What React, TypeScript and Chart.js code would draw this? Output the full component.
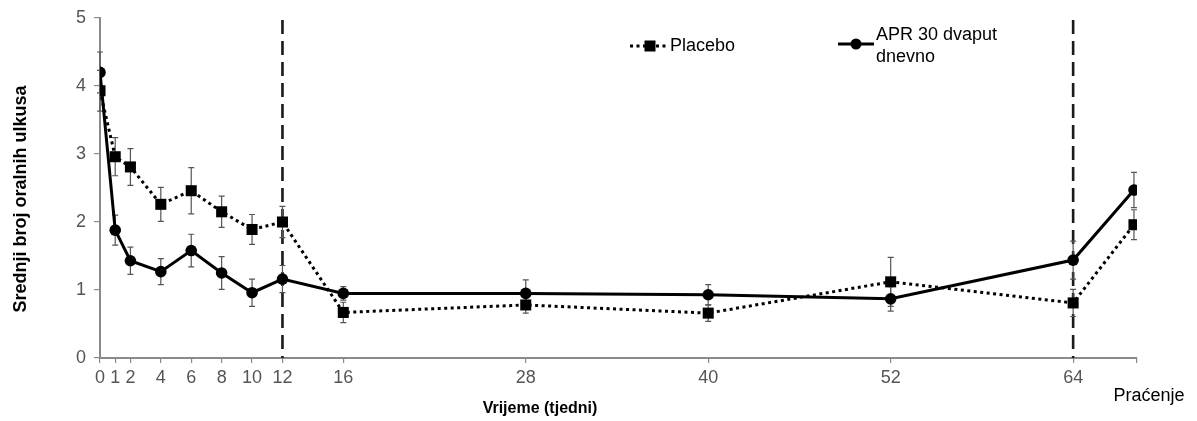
import React, { useEffect, useRef } from "react";
import { Chart, registerables } from "chart.js";

Chart.register(...registerables);

// ---- data ----
const weeks = [0, 1, 2, 4, 6, 8, 10, 12, 16, 28, 40, 52, 64, 68];
const tickWeeks = [0, 1, 2, 4, 6, 8, 10, 12, 16, 28, 40, 52, 64, 68.2];
const tickLabels = ["0", "1", "2", "4", "6", "8", "10", "12", "16", "28", "40", "52", "64", ""];
const followUpLabel = "Praćenje";
const yTicks = [0, 1, 2, 3, 4, 5];
const phaseLines = [12, 64];

const placeboMean = [3.93, 2.96, 2.81, 2.26, 2.46, 2.15, 1.89, 2.0, 0.67, 0.78, 0.66, 1.12, 0.81, 1.96];
const placeboSE = [0.3, 0.28, 0.27, 0.25, 0.34, 0.23, 0.22, 0.23, 0.15, 0.12, 0.12, 0.36, 0.2, 0.22];
const aprMean = [4.2, 1.88, 1.43, 1.27, 1.58, 1.25, 0.96, 1.16, 0.95, 0.95, 0.93, 0.87, 1.44, 2.47];
const aprSE = [0.3, 0.22, 0.2, 0.19, 0.24, 0.24, 0.2, 0.2, 0.1, 0.2, 0.15, 0.18, 0.28, 0.26];

const placeboName = "Placebo";
const aprName = "APR 30 dvaput dnevno";
const aprLegendLines = ["APR 30 dvaput", "dnevno"];
const yTitle = "Srednji broj oralnih ulkusa";
const xTitle = "Vrijeme (tjedni)";

const FONT = "'Liberation Sans', Arial, sans-serif";

const overlayPlugin = {
  id: "overlay",
  beforeDatasetsDraw(chart: any) {
    const { ctx, chartArea, scales } = chart;
    const x = scales.x;
    const y = scales.y;
    // vertical phase lines
    ctx.save();
    ctx.strokeStyle = "#1a1a1a";
    ctx.lineWidth = 2.6;
    ctx.setLineDash([14, 7]);
    phaseLines.forEach((w) => {
      const px = x.getPixelForValue(w);
      ctx.beginPath();
      ctx.moveTo(px, chartArea.top + 2);
      ctx.lineTo(px, chartArea.bottom);
      ctx.stroke();
    });
    ctx.restore();

    // error bars
    ctx.save();
    ctx.strokeStyle = "#555";
    ctx.lineWidth = 1.2;
    const drawBars = (means: number[], errs: number[]) => {
      means.forEach((m, i) => {
        const px = x.getPixelForValue(weeks[i]);
        const top = y.getPixelForValue(m + errs[i]);
        const bot = y.getPixelForValue(m - errs[i]);
        ctx.beginPath();
        ctx.moveTo(px, top);
        ctx.lineTo(px, bot);
        ctx.moveTo(px - 3, top);
        ctx.lineTo(px + 3, top);
        ctx.moveTo(px - 3, bot);
        ctx.lineTo(px + 3, bot);
        ctx.stroke();
      });
    };
    drawBars(placeboMean, placeboSE);
    drawBars(aprMean, aprSE);
    ctx.restore();
  },
  afterDraw(chart: any) {
    const { ctx, scales } = chart;
    const x = scales.x;
    ctx.save();
    // legend: placebo
    ctx.strokeStyle = "#000";
    ctx.fillStyle = "#000";
    ctx.lineWidth = 3;
    ctx.setLineDash([3, 3.5]);
    ctx.beginPath();
    ctx.moveTo(630, 46);
    ctx.lineTo(668, 46);
    ctx.stroke();
    ctx.setLineDash([]);
    ctx.fillRect(644.5, 40.5, 11, 11);
    ctx.font = `18px ${FONT}`;
    ctx.textAlign = "left";
    ctx.textBaseline = "middle";
    ctx.fillText(placeboName, 670, 46);
    // legend: APR
    ctx.lineWidth = 3;
    ctx.beginPath();
    ctx.moveTo(838, 44);
    ctx.lineTo(874, 44);
    ctx.stroke();
    ctx.beginPath();
    ctx.arc(856, 44, 5.5, 0, Math.PI * 2);
    ctx.fill();
    ctx.fillText(aprLegendLines[0], 876, 35);
    ctx.fillText(aprLegendLines[1], 876, 57);

    // follow-up label
    ctx.textAlign = "center";
    ctx.fillText(followUpLabel, x.getPixelForValue(68) + 15, 396);

    // x title
    ctx.font = `bold 16px ${FONT}`;
    ctx.fillText(xTitle, 540, 409);

    // y title
    ctx.translate(21, 199);
    ctx.rotate(-Math.PI / 2);
    ctx.font = `bold 18px ${FONT}`;
    ctx.fillText(yTitle, 0, 0);
    ctx.restore();
  },
};

export default function App() {
  const canvasRef = useRef<HTMLCanvasElement | null>(null);

  useEffect(() => {
    document.body.style.margin = "0";
    const canvas = canvasRef.current;
    if (!canvas) return;
    Chart.defaults.font.family = FONT;
    const chart = new Chart(canvas, {
      type: "line",
      data: {
        datasets: [
          {
            label: aprName,
            data: weeks.map((w, i) => ({ x: w, y: aprMean[i] })),
            borderColor: "#000",
            backgroundColor: "#000",
            borderWidth: 3,
            pointStyle: "circle",
            pointRadius: 5.8,
            pointBorderWidth: 0,
            tension: 0,
          },
          {
            label: placeboName,
            data: weeks.map((w, i) => ({ x: w, y: placeboMean[i] })),
            borderColor: "#000",
            backgroundColor: "#000",
            borderWidth: 3,
            borderDash: [3, 3.5],
            pointStyle: "rect",
            pointRadius: 7.8,
            pointBorderWidth: 0,
            tension: 0,
          },
        ],
      },
      options: {
        responsive: false,
        animation: false,
        events: [],
        layout: { padding: { top: 18, right: 60, bottom: 0, left: 0 } },
        plugins: {
          legend: { display: false },
          tooltip: { enabled: false },
        },
        scales: {
          x: {
            type: "linear",
            min: 0,
            max: 68.2,
            afterBuildTicks: (s: any) => {
              s.ticks = tickWeeks.map((v) => ({ value: v }));
            },
            ticks: {
              autoSkip: false,
              maxRotation: 0,
              minRotation: 0,
              padding: 4,
              color: "#555",
              font: { size: 18, family: FONT },
              callback: (_v: any, i: number) => tickLabels[i],
            },
            grid: { drawOnChartArea: false, drawTicks: true, tickLength: 5, color: "#8a8a8a", lineWidth: 1.2 },
            border: { color: "#8a8a8a", width: 2 },
            afterFit: (s: any) => {
              s.height = 63;
              s.paddingLeft = 0;
              s.paddingRight = 0;
            },
          },
          y: {
            type: "linear",
            min: 0,
            max: 5,
            afterBuildTicks: (s: any) => {
              s.ticks = yTicks.map((v) => ({ value: v }));
            },
            ticks: {
              padding: 8,
              color: "#555",
              font: { size: 18, family: FONT },
            },
            grid: { drawOnChartArea: false, drawTicks: true, tickLength: 6, color: "#8a8a8a", lineWidth: 1.2 },
            border: { color: "#8a8a8a", width: 2 },
            afterFit: (s: any) => {
              s.width = 100;
              s.paddingTop = 0;
              s.paddingBottom = 0;
            },
          },
        },
      },
      plugins: [overlayPlugin],
    } as any);
    return () => chart.destroy();
  }, []);

  return <canvas ref={canvasRef} width={1197} height={421} style={{ display: "block" }} />;
}
